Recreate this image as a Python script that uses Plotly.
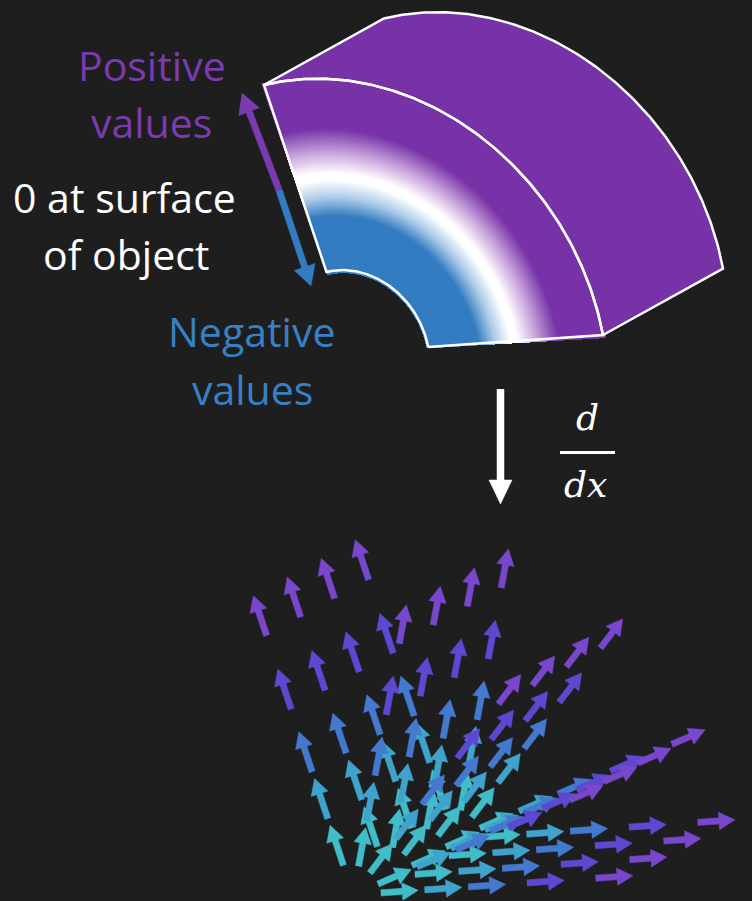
import numpy as np
import plotly.graph_objects as go

W, H = 752, 901
BG = "#1e1e1e"
PURPLE = "#7632a6"
BLUE = "#337cc1"
TXT_PURPLE = "#7a3bb0"
TXT_BLUE = "#3880c4"

# ---------------- top sector (pixel units of the picture) ----------------
SECTOR_CENTER = (353.3, 352.1)
EDGE_BOTTOM = (249.7, -17.1)    # centre -> outer end of bottom edge
EDGE_LEFT = (-89.3, -267.1)     # centre -> outer end of left edge
SECTOR_SPAN_DEG = 98.8
INNER_RATIO = 0.30
EXTRUSION = (120.0, -66.5)

# colour of the front face as a function of radius fraction
GRAD_R = [0.30, 0.50, 0.565, 0.63, 0.655, 0.73, 0.82, 1.0]
GRAD_C = [BLUE, BLUE, "#a9c9e8", "#ffffff", "#ffffff", "#c9a4dc", PURPLE, PURPLE]

# ---------------- gradient (vector) field ----------------
FIELD_ORIGIN = (353.3, 894.8)
RAY_ANGLES_DEG = [0.0, 17.3, 42.4, 67.6, 98.8]
LEVELS = [0.11, 0.285, 0.46, 0.695, 0.97]
LEVEL_COLORS = ["#41bcc9", "#3fa3cb", "#4479d0", "#5c49d0", "#7947cc"]
DEPTH_STEP = (34.0, -18.6)
N_DEPTH = 4
ARROW_LEN = 0.15

# ---------------- labels ----------------
LABELS = [
    ("Positive", 152, 80.5, TXT_PURPLE),
    ("values", 151, 138, TXT_PURPLE),
    ("0 at surface", 124.5, 213, "#ffffff"),
    ("of object", 125.5, 270, "#ffffff"),
    ("Negative", 251.5, 347, TXT_BLUE),
    ("values", 252, 405, TXT_BLUE),
]
LABEL_SIZE = 41

SIDE_ARROW_TOP = (242, 93)
SIDE_ARROW_SPLIT = (279, 190)
SIDE_ARROW_BOTTOM = (311, 286)
DOWN_ARROW = ((500.5, 389), (500.5, 504))

# =====================================================================
phi = np.radians(SECTOR_SPAN_DEG)
d1 = np.array(EDGE_BOTTOM)
d2 = np.array(EDGE_LEFT)
m2 = (d2 - np.cos(phi) * d1) / np.sin(phi)
M = np.column_stack([d1, m2])
Minv = np.linalg.inv(M)
C = np.array(SECTOR_CENTER)
T = np.array(EXTRUSION)


def arc(center, r, a0, a1, n=160):
    a = np.linspace(a0, a1, n)
    pts = center[:, None] + r * (M @ np.vstack([np.cos(a), np.sin(a)]))
    return pts[0], pts[1]


fig = go.Figure()

# side (extruded) band
ax_, ay_ = arc(C, 1.0, 0, phi)
bx_, by_ = arc(C + T, 1.0, phi, 0)
fig.add_trace(go.Scatter(
    x=np.concatenate([ax_, bx_, ax_[:1]]), y=np.concatenate([ay_, by_, ay_[:1]]),
    mode="lines", fill="toself", fillcolor=PURPLE,
    line=dict(color="white", width=2.5), hoverinfo="skip", showlegend=False))

# front face gradient as heatmap
xs = np.arange(255, 617)
ys = np.arange(68, 357)
X, Y = np.meshgrid(xs, ys)
P = np.vstack([(X - C[0]).ravel(), (Y - C[1]).ravel()])
Q = Minv @ P
r = np.hypot(Q[0], Q[1])
ang = np.arctan2(Q[1], Q[0])
mask = (r >= INNER_RATIO - 0.01) & (r <= 1.01) & (ang >= -0.01) & (ang <= phi + 0.01)
z = np.where(mask, np.clip(r, INNER_RATIO, 1.0), np.nan).reshape(X.shape)
zl = [[None if np.isnan(v) else round(float(v), 4) for v in row] for row in z]
span = 1.0 - INNER_RATIO
cscale = [[(g - INNER_RATIO) / span, c] for g, c in zip(GRAD_R, GRAD_C)]
fig.add_trace(go.Heatmap(x=xs, y=ys, z=zl, zmin=INNER_RATIO, zmax=1.0,
                         colorscale=cscale, showscale=False, hoverinfo="skip"))

# front face outline
ox, oy = arc(C, 1.0, phi, 0)
ix, iy = arc(C, INNER_RATIO, 0, phi)
fig.add_trace(go.Scatter(
    x=np.concatenate([ix, ox, ix[:1]]), y=np.concatenate([iy, oy, iy[:1]]),
    mode="lines", line=dict(color="white", width=2.5), hoverinfo="skip", showlegend=False))


def arrow_poly(p0, p1, head_len, head_half, shaft_half):
    p0 = np.asarray(p0, float)
    p1 = np.asarray(p1, float)
    v = p1 - p0
    L = np.hypot(*v)
    u = v / L
    n = np.array([-u[1], u[0]])
    base = p1 - u * min(head_len, L * 0.7)
    pts = [p0 + n * shaft_half, base + n * shaft_half, base + n * head_half, p1,
           base - n * head_half, base - n * shaft_half, p0 - n * shaft_half]
    return [p[0] for p in pts], [p[1] for p in pts]


def add_arrows(polys, color):
    xx, yy = [], []
    for px, py in polys:
        xx += px + [None]
        yy += py + [None]
    fig.add_trace(go.Scatter(x=xx, y=yy, mode="lines", fill="toself", fillcolor=color,
                             line=dict(color=color, width=0.5), hoverinfo="skip",
                             showlegend=False))


# vector field, back layers first
O = np.array(FIELD_ORIGIN)
D = np.array(DEPTH_STEP)
for k in reversed(range(N_DEPTH)):
    for j, lev in enumerate(LEVELS):
        polys = []
        for a_deg in RAY_ANGLES_DEG:
            a = np.radians(a_deg)
            dirv = M @ np.array([np.cos(a), np.sin(a)])
            tail = O + lev * dirv + k * D
            tip = tail + ARROW_LEN * dirv
            polys.append(arrow_poly(tail, tip, 16, 8.8, 3.1))
        add_arrows(polys, LEVEL_COLORS[j])

# double arrow beside the sector
add_arrows([arrow_poly(SIDE_ARROW_SPLIT, SIDE_ARROW_TOP, 20, 11, 3.2)], TXT_PURPLE)
add_arrows([arrow_poly(SIDE_ARROW_SPLIT, SIDE_ARROW_BOTTOM, 20, 11, 3.2)], BLUE)

# down arrow
add_arrows([arrow_poly(DOWN_ARROW[0], DOWN_ARROW[1], 24, 11.5, 3.5)], "#ffffff")

annotations = []
for text, x, yb, col in LABELS:
    annotations.append(dict(x=x, y=yb - 0.39 * LABEL_SIZE, xref="x", yref="y", text=text,
                            showarrow=False, xanchor="center", yanchor="middle",
                            font=dict(family="Open Sans", size=LABEL_SIZE, color=col)))
annotations.append(dict(x=587, y=417, xref="x", yref="y", text="<i>d</i>", showarrow=False,
                        font=dict(family="DejaVu Serif", size=36, color="white")))
annotations.append(dict(x=585, y=484, xref="x", yref="y", text="<i>dx</i>", showarrow=False,
                        font=dict(family="DejaVu Serif", size=36, color="white")))

fig.update_layout(
    width=W, height=H, margin=dict(l=0, r=0, t=0, b=0), autosize=False,
    paper_bgcolor=BG, plot_bgcolor=BG, showlegend=False,
    xaxis=dict(range=[0, W], visible=False, fixedrange=True),
    yaxis=dict(range=[H, 0], visible=False, fixedrange=True),
    annotations=annotations,
    shapes=[dict(type="line", x0=560, x1=615, y0=452.5, y1=452.5, xref="x", yref="y",
                 line=dict(color="white", width=3))],
)

fig.write_html("out.html", config={"displayModeBar": False})

# remove the default page margin so the figure fills the window
with open("out.html", encoding="utf-8") as f:
    html = f.read()
html = html.replace("<head>", "<head><style>html,body{margin:0;padding:0;background:#1e1e1e;overflow:hidden}</style>", 1)
with open("out.html", "w", encoding="utf-8") as f:
    f.write(html)
